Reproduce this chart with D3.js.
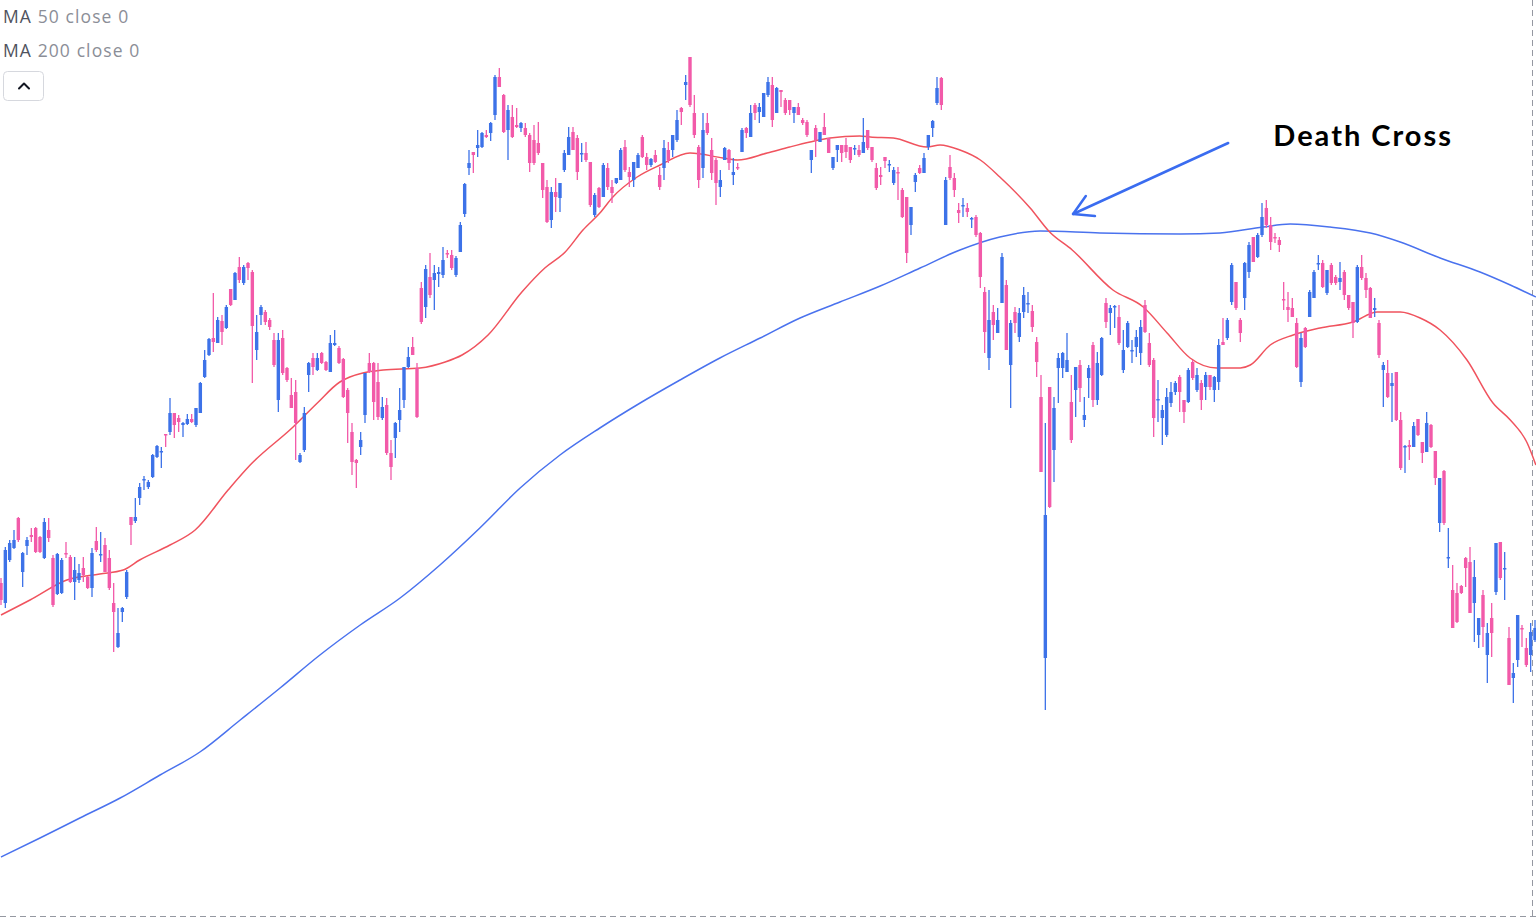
<!DOCTYPE html>
<html>
<head>
<meta charset="utf-8">
<script src="https://cdn.jsdelivr.net/npm/d3@7"></script>
<style>
	html, body { margin: 0; padding: 0; background: #fff; overflow: hidden; }
	svg { display: block; }
</style>
</head>
<body>
<script>
// daily bars: [open, high, low, close]
var ohlc = [
	[41.7,42.2,39.5,40.0],[39.7,45.3,39.2,45.0],[44.0,46.0,43.8,45.7],[45.2,47.0,45.1,46.0],[48.2,48.3,45.8,46.0],
	[42.8,44.8,41.3,44.7],[45.4,46.3,44.5,46.0],[46.5,47.2,45.8,46.3],[47.2,47.3,44.7,44.8],[46.3,46.4,44.7,44.8],
	[44.2,48.2,44.1,47.8],[47.0,48.2,45.8,46.2],[44.2,44.5,39.3,39.5],[40.6,44.7,40.5,44.6],[40.7,44.2,40.6,44.0],
	[44.7,45.8,44.2,44.6],[44.3,44.5,41.7,41.8],[41.8,44.3,40.0,43.0],[42.0,43.6,41.7,42.7],[43.2,44.3,41.8,42.5],
	[42.3,42.4,41.1,41.2],[41.2,45.2,40.3,44.7],[45.9,47.3,44.8,45.0],[44.5,46.8,43.8,44.6],[45.5,46.2,42.8,42.8],
	[44.2,45.0,41.0,41.2],[39.7,41.7,34.8,38.8],[35.3,39.2,35.2,36.7],[38.8,39.3,37.8,39.2],[40.3,43.0,40.1,42.8],
	[48.3,48.3,45.5,47.5],[47.9,50.2,47.7,48.3],[50.2,51.7,49.5,51.3],[52.0,52.4,51.0,52.1],[51.3,52.0,51.1,51.8],
	[52.3,54.6,52.2,54.5],[54.3,55.5,54.2,55.4],[54.8,55.3,53.2,54.9],[56.6,56.6,55.3,56.5],[56.8,60.2,56.5,58.7],
	[58.7,58.7,56.2,57.5],[58.2,58.5,56.8,57.8],[57.5,57.8,56.3,57.7],[57.6,58.6,57.5,58.1],[58.1,58.6,57.7,57.8],
	[57.5,59.2,57.3,59.2],[58.7,61.8,58.7,61.7],[62.3,65.0,62.2,64.0],[64.5,66.2,64.4,66.1],[66.2,70.7,64.8,65.8],
	[65.7,68.3,65.7,68.0],[67.9,68.5,65.5,66.8],[67.2,69.5,67.1,69.3],[71.1,71.1,69.4,69.5],[70.0,72.8,70.0,72.7],
	[73.3,74.3,71.7,72.0],[71.7,73.5,71.5,73.3],[73.7,73.8,72.0,73.2],[72.8,73.0,61.7,67.4],[65.0,68.5,64.0,66.8],
	[68.5,69.5,67.5,69.3],[68.8,69.0,67.5,67.8],[68.0,68.2,67.0,67.3],[66.0,66.7,63.3,63.5],[60.0,66.7,58.8,66.0],
	[66.2,67.0,62.5,62.7],[63.2,63.3,61.8,62.0],[60.5,62.2,59.2,59.2],[60.8,62.0,54.0,57.7],[53.8,54.7,53.7,54.5],
	[55.0,59.3,54.8,58.7],[62.5,63.8,60.8,63.7],[64.2,64.7,62.5,63.3],[63.0,64.7,62.9,64.2],[64.7,64.8,63.6,63.7],
	[63.8,63.9,62.9,63.0],[62.8,66.5,62.8,65.7],[65.5,67.0,65.4,65.7],[65.2,65.4,63.6,63.7],[64.1,64.2,60.2,60.3],
	[61.0,61.2,55.7,58.7],[56.8,57.7,52.5,53.8],[54.0,54.1,51.2,53.7],[55.3,56.8,54.5,56.0],[58.5,62.7,57.7,62.7],
	[63.7,64.7,62.7,62.8],[63.7,63.8,58.0,59.8],[61.8,63.7,58.0,58.3],[58.2,60.3,58.0,59.3],[59.5,60.2,54.5,54.7],
	[54.7,56.0,52.0,53.3],[56.2,57.8,54.2,57.7],[58.0,61.2,56.8,59.0],[60.0,63.3,59.2,63.3],[63.3,65.3,63.2,64.3],
	[65.3,66.3,64.5,64.5],[63.2,63.7,58.2,58.3],[71.2,71.8,67.6,67.8],[69.3,73.5,68.2,73.1],[72.3,74.7,70.2,70.5],
	[72.0,73.5,69.0,72.7],[72.6,73.3,71.3,72.8],[72.5,75.3,72.2,74.0],[74.7,75.0,74.2,74.6],[74.5,75.0,73.0,73.2],
	[72.5,74.4,72.3,74.2],[74.8,77.8,74.8,77.5],[78.6,81.7,78.3,81.6],[83.2,85.0,82.5,83.7],[84.8,84.8,82.7,84.5],
	[85.2,87.0,84.3,85.5],[85.3,86.8,85.2,86.7],[86.5,87.0,86.2,86.3],[86.7,87.8,85.9,87.7],[88.5,92.5,88.0,92.3],
	[92.3,93.2,91.3,91.3],[90.5,90.6,86.7,86.8],[87.0,89.5,84.0,89.0],[88.3,89.5,86.2,86.3],[87.5,89.2,87.2,87.3],
	[87.2,87.8,86.8,87.7],[87.2,87.7,86.3,86.5],[86.5,86.7,82.8,83.7],[86.0,87.5,83.5,83.7],[85.7,87.8,84.5,84.7],
	[83.7,83.7,80.2,81.0],[81.3,82.0,77.7,77.8],[78.0,81.3,77.2,80.8],[80.8,82.2,78.8,80.3],[80.2,81.7,78.8,81.7],
	[83.0,85.0,82.8,84.7],[84.5,87.3,84.5,86.3],[86.8,87.3,85.0,85.0],[86.2,86.5,82.0,82.8],[84.6,85.7,83.8,84.7],
	[84.7,85.8,83.8,84.0],[83.8,83.8,79.3,79.5],[78.5,80.7,78.3,80.5],[81.2,81.3,79.2,79.3],[80.3,83.7,80.3,83.5],
	[83.2,83.7,81.0,81.3],[81.3,82.0,79.7,80.7],[81.7,82.2,81.6,82.2],[82.0,85.2,82.0,85.0],[85.3,86.0,82.8,83.0],
	[82.8,83.3,81.3,82.3],[82.0,83.8,81.3,83.8],[83.2,84.7,83.2,84.5],[86.3,86.5,84.2,84.3],[84.3,84.7,83.0,83.5],
	[83.5,84.2,83.3,84.1],[84.5,85.0,83.7,83.8],[82.5,83.3,81.0,81.3],[83.2,86.0,82.0,85.2],[85.0,85.8,83.7,84.0],
	[85.0,86.5,84.3,86.5],[86.0,89.0,85.8,88.0],[89.2,89.3,87.5,88.8],[91.5,92.5,90.0,91.8],[94.3,94.3,89.3,89.5],
	[88.7,90.5,86.2,86.5],[85.3,85.5,81.2,82.0],[83.2,88.7,82.2,87.0],[87.7,88.7,86.5,86.7],[85.0,86.2,82.0,82.7],
	[84.0,84.2,79.5,81.7],[81.3,83.0,80.3,82.0],[84.0,85.3,84.0,85.2],[85.0,85.1,83.0,83.7],[82.5,84.2,81.5,82.8],
	[83.3,83.7,83.0,83.2],[84.8,87.2,84.8,87.0],[87.2,87.3,86.2,86.7],[86.3,89.5,86.3,88.7],[89.5,89.7,88.0,88.7],
	[88.8,89.7,87.7,89.3],[88.3,90.7,88.3,90.7],[90.5,92.3,90.3,91.8],[91.5,92.3,87.3,88.0],[88.7,91.3,88.7,91.2],
	[91.0,91.0,89.3,90.8],[90.0,90.2,88.5,88.7],[90.0,90.0,88.5,89.0],[88.7,89.3,87.7,89.3],[89.3,89.7,88.5,88.5],
	[88.0,88.2,87.5,87.7],[87.8,88.0,86.3,86.5],[84.0,85.0,82.7,85.0],[87.2,87.5,84.3,86.0],[85.8,86.8,85.8,86.8],
	[87.3,88.7,86.5,86.5],[86.2,86.2,84.7,84.7],[83.2,84.3,83.0,84.3],[85.0,85.5,83.8,85.5],[85.5,85.5,83.8,84.7],
	[85.5,86.2,84.2,84.8],[85.3,85.3,83.7,84.0],[85.1,85.5,84.5,85.2],[85.0,85.5,84.3,84.5],[84.7,88.2,84.7,85.8],
	[87.0,87.0,85.0,85.2],[85.3,85.3,83.8,84.0],[83.2,83.7,81.0,81.2],[82.5,83.3,81.5,82.3],[84.3,84.3,83.2,83.9],
	[83.5,84.0,82.8,83.6],[81.7,83.3,81.5,83.0],[82.8,83.3,80.0,82.7],[81.0,81.2,78.2,78.3],[80.3,80.3,73.7,74.7],
	[77.5,79.3,76.5,79.3],[81.8,82.7,80.8,82.5],[83.2,83.5,82.6,82.7],[82.7,84.7,82.7,84.2],[85.3,86.5,85.0,86.5],
	[87.2,88.0,86.3,87.9],[89.7,92.3,89.5,91.2],[92.2,92.3,89.0,89.5],[77.5,82.3,77.5,82.0],[83.3,84.5,82.0,82.2],
	[82.2,82.7,80.3,81.0],[79.0,79.7,77.7,78.7],[79.4,80.2,78.3,79.5],[79.2,79.7,78.3,78.8],[78.1,78.3,77.2,78.2],
	[78.3,78.5,76.3,76.5],[76.7,76.8,71.2,72.3],[70.8,71.3,64.7,66.8],[64.2,71.0,63.0,68.0],[68.8,69.5,66.0,67.5],
	[66.7,69.2,66.7,68.0],[69.7,74.7,69.7,74.3],[71.5,72.0,65.0,65.0],[63.5,68.0,59.2,67.7],[68.8,69.3,66.7,67.7],
	[66.3,69.2,65.8,68.7],[68.8,71.3,68.2,70.5],[69.6,70.8,68.7,69.7],[68.9,69.5,66.8,67.3],[65.8,66.3,62.3,63.8],
	[60.3,62.5,52.8,52.8],[34.2,57.7,29.0,48.5],[61.3,61.3,49.2,49.3],[55.0,60.3,51.8,59.2],[63.2,64.7,59.7,64.2],
	[63.2,64.8,62.2,64.7],[62.8,66.7,62.8,64.0],[59.8,62.5,55.7,56.0],[61.0,63.3,58.3,63.3],[63.5,64.0,59.8,61.2],
	[58.0,60.3,57.3,58.5],[62.2,63.5,60.2,63.2],[65.5,65.8,59.3,60.0],[60.0,64.8,59.5,63.7],[62.5,66.3,62.4,66.2],
	[69.7,70.2,67.2,67.8],[68.7,69.5,66.5,69.2],[69.3,69.5,67.2,69.4],[68.3,69.5,65.5,65.7],[63.0,67.0,62.7,65.0],
	[65.3,67.9,65.2,67.7],[64.9,66.0,63.7,65.0],[65.3,67.0,64.3,66.3],[64.7,68.0,63.5,67.3],[69.5,70.0,66.7,66.8],
	[65.7,66.7,63.3,63.5],[64.0,64.2,56.3,58.2],[60.0,62.0,57.8,60.1],[58.2,59.5,55.5,59.0],[56.5,61.2,56.3,60.3],
	[59.7,61.8,59.3,60.8],[60.8,61.9,60.5,61.7],[62.3,62.5,58.8,60.8],[60.0,60.0,57.7,58.8],[59.8,63.2,59.7,63.0],
	[63.8,64.0,62.0,62.2],[61.0,63.2,60.8,62.5],[61.7,62.0,59.0,60.0],[61.3,62.8,60.0,62.5],[62.5,62.5,61.0,61.3],
	[61.0,62.4,59.8,62.3],[61.8,66.1,61.0,65.5],[65.8,68.2,65.5,65.5],[66.2,68.2,66.0,68.0],[69.8,73.7,69.5,73.5],
	[71.8,71.8,69.0,69.2],[68.0,68.2,65.8,66.7],[70.2,73.8,69.0,73.7],[72.8,75.8,72.2,75.5],[76.3,76.3,73.8,73.8],
	[74.3,76.7,74.2,76.5],[76.5,79.7,76.3,78.3],[79.2,80.0,77.2,77.5],[77.5,78.3,75.0,75.8],[76.3,76.7,75.7,76.2],
	[76.0,76.3,74.8,75.5],[70.1,71.8,69.0,70.0],[69.3,70.8,67.8,69.0],[69.2,70.2,68.3,68.3],[67.7,68.2,63.2,63.3],
	[61.8,66.7,61.3,66.2],[67.2,67.3,65.2,65.3],[68.3,71.0,68.3,70.8],[70.2,73.0,70.2,72.8],[73.6,74.5,73.0,73.7],
	[73.7,74.0,71.2,71.3],[70.7,73.0,70.5,73.0],[73.5,73.7,71.5,71.7],[72.3,72.5,71.5,71.7],[71.8,73.8,71.0,72.2],
	[72.8,73.0,70.0,70.5],[70.5,70.5,69.0,69.2],[69.8,69.8,66.2,67.7],[67.8,73.5,67.7,73.3],[73.3,74.5,72.0,72.2],
	[72.2,72.7,70.2,71.0],[71.2,71.3,68.2,68.2],[69.0,70.2,68.3,69.2],[67.7,68.0,64.2,64.5],[63.0,63.8,59.3,63.5],
	[62.7,64.0,60.2,60.3],[61.4,62.7,57.8,61.7],[62.8,62.8,57.9,58.0],[58.0,58.8,53.0,53.2],[55.3,55.5,52.7,55.4],
	[55.5,56.0,54.0,55.3],[55.3,57.8,55.3,57.4],[58.1,58.1,56.4,56.5],[55.8,55.8,53.7,54.7],[54.8,58.8,54.8,57.7],
	[57.5,57.6,55.2,55.3],[54.9,54.9,51.5,52.2],[47.7,52.2,46.8,52.2],[52.9,53.0,47.5,47.7],[44.2,47.2,43.2,44.3],
	[41.0,43.5,37.2,37.2],[40.7,41.7,37.7,37.8],[41.4,41.5,40.6,40.7],[44.2,44.3,41.3,43.2],[43.8,45.3,38.7,38.7],
	[39.7,44.0,35.8,42.3],[36.5,38.2,35.2,38.2],[40.5,41.0,35.3,37.3],[34.5,37.7,31.7,36.7],[38.2,39.7,34.3,36.7],
	[40.8,45.7,40.5,45.7],[45.8,45.8,42.0,42.2],[43.1,44.8,40.0,43.2],[36.2,37.3,31.5,31.5],[32.2,33.7,29.7,32.7],
	[34.0,38.5,33.3,38.5],[37.2,37.5,35.3,37.1],[35.2,36.2,33.3,33.5],[34.5,37.7,32.8,36.8],[36.0,38.0,35.8,37.2]
];

// moving averages: [bar index, value]
var ma50 = [
	[0,38.5],[6.7,40.0],[15.2,42.0],[22.8,42.6],[28.2,43.0],[32,44.0],[39,45.5],[44.8,47.0],[52.4,51.0],[57.5,53.5],
	[67.4,57.3],[73,59.7],[78.2,61.8],[80.5,62.3],[83.5,62.7],[88.2,63.0],[96.7,63.2],[102.5,63.8],[106.4,64.5],[112.4,66.5],
	[120.2,70.8],[125.5,73.2],[130.2,74.8],[134.3,77.0],[138.2,78.7],[141.2,80.3],[146.8,82.3],[152.1,83.5],[159,84.7],[166.6,84.2],
	[170,84.0],[176.8,84.7],[182,85.3],[186.7,85.8],[191.3,86.2],[198.2,86.4],[200.6,86.3],[205.9,86.2],[213.7,85.3],[216.7,85.5],
	[221.3,85.0],[226,84.0],[230.5,82.3],[237.5,79.2],[242,76.8],[247.2,75.0],[256.6,71.0],[263.6,69.3],[269.1,66.7],[274.4,64.2],
	[280.6,63.2],[286,63.2],[288.3,63.5],[292.9,65.5],[298.2,66.5],[304.4,67.2],[312,67.8],[317.6,68.8],[322.9,68.8],[327.5,68.2],
	[332.1,67.0],[338.3,64.0],[344.3,59.7],[348.3,58.0],[352.2,55.7],[354.2,53.5]
];
var ma200 = [
	[0,14.3],[9,16.2],[18.2,18.2],[27.5,20.2],[36.7,22.5],[45.9,24.8],[55.2,28.0],[64.4,31.2],[73.6,34.5],[82.9,37.5],
	[92.1,40.2],[101.3,43.5],[110.5,47.2],[119.8,51.2],[129,54.5],[138.2,57.2],[147.5,59.7],[156.7,62.0],[165.9,64.2],[175.2,66.2],
	[184.4,68.2],[193.6,69.8],[202.9,71.4],[212.1,73.2],[221.3,75.0],[230.5,76.3],[239.8,76.9],[253.6,76.7],[272.1,76.6],[281.3,76.7],
	[291.2,77.3],[297.5,77.6],[306.7,77.3],[316,76.7],[322.9,75.8],[332.1,74.2],[341.3,72.8],[348.3,71.5],[354.2,70.3]
];

var legendRows = [
	{name: 'MA', args: '50 close 0'},
	{name: 'MA', args: '200 close 0'}
];

var note = {label: 'Death Cross', tip: [247.4, 78.6], tail: [283.2, 85.7], text: [293.6, 85.4]};
var cursor = {index: 353.3, price: 8.4};

var width = 1536,
height = 919;

var upColor = '#3d72e8',
downColor = '#f25aa9';

var x = d3.scaleLinear().domain([0, ohlc.length - 1]).range([1, 1535]),
y = d3.scaleLinear().domain([10, 100]).range([900, 0]);

var svg = d3.select('body').append('svg')
	.attr('width', width)
	.attr('height', height);

// crosshair
svg.append('line')
	.attr('x1', Math.round(x(cursor.index)) + 0.5)
	.attr('x2', Math.round(x(cursor.index)) + 0.5)
	.attr('y1', 0)
	.attr('y2', height)
	.attr('stroke', '#9598a1')
	.attr('stroke-width', 1)
	.attr('stroke-dasharray', '6,4');

svg.append('line')
	.attr('x1', 0)
	.attr('x2', width)
	.attr('y1', Math.round(y(cursor.price)) + 0.5)
	.attr('y2', Math.round(y(cursor.price)) + 0.5)
	.attr('stroke', '#9598a1')
	.attr('stroke-width', 1)
	.attr('stroke-dasharray', '6,4');

var maLine = d3.line()
	.curve(d3.curveMonotoneX)
	.x(function(d) { return x(d[0]); })
	.y(function(d) { return y(d[1]); });

svg.append('path')
	.datum(ma200)
	.attr('fill', 'none')
	.attr('stroke', '#4a72ee')
	.attr('stroke-width', 1.5)
	.attr('d', maLine);

svg.append('path')
	.datum(ma50)
	.attr('fill', 'none')
	.attr('stroke', '#f0535e')
	.attr('stroke-width', 1.5)
	.attr('d', maLine);

var bars = svg.append('g')
	.selectAll('g')
	.data(ohlc)
	.enter().append('g')
	.attr('fill', function(d) { return d[3] >= d[0] ? upColor : downColor; })
	.attr('stroke', function(d) { return d[3] >= d[0] ? upColor : downColor; });

bars.append('line')
	.attr('x1', function(d, i) { return x(i); })
	.attr('x2', function(d, i) { return x(i); })
	.attr('y1', function(d) { return y(d[1]); })
	.attr('y2', function(d) { return y(d[2]); })
	.attr('stroke-width', 1.3);

bars.append('rect')
	.attr('stroke', 'none')
	.attr('x', function(d, i) { return x(i) - 1.7; })
	.attr('width', 3.4)
	.attr('y', function(d) { return y(Math.max(d[0], d[3])); })
	.attr('height', function(d) { return Math.max(1.5, Math.abs(y(d[0]) - y(d[3]))); });

// legend
var legend = svg.append('g')
	.attr('font-family', '"Open Sans", "Noto Sans", sans-serif')
	.attr('font-size', 17.5)
	.attr('letter-spacing', 1.1);

legend.selectAll('text')
	.data(legendRows)
	.enter().append('text')
	.attr('x', 3)
	.attr('y', function(d, i) { return 23 + i * 34; })
	.each(function(d) {
		var t = d3.select(this);
		t.append('tspan').attr('fill', '#50535e').text(d.name);
		t.append('tspan').attr('fill', '#8b8e97').text(' ' + d.args);
	});

var toggle = svg.append('g')
	.attr('transform', 'translate(3.5, 71.5)');

toggle.append('rect')
	.attr('width', 40)
	.attr('height', 29)
	.attr('rx', 4)
	.attr('fill', '#fff')
	.attr('stroke', '#d6d8de');

toggle.append('path')
	.attr('d', 'M15.5,17 L20.5,12 L25.5,17')
	.attr('fill', 'none')
	.attr('stroke', '#131722')
	.attr('stroke-width', 2)
	.attr('stroke-linecap', 'round')
	.attr('stroke-linejoin', 'round');

// annotation
var tip = [x(note.tip[0]), y(note.tip[1])],
tail = [x(note.tail[0]), y(note.tail[1])];
var ang = Math.atan2(tail[1] - tip[1], tail[0] - tip[0]),
head = 22,
spread = Math.PI / 6;

svg.append('line')
	.attr('x1', tail[0])
	.attr('y1', tail[1])
	.attr('x2', tip[0])
	.attr('y2', tip[1])
	.attr('stroke', '#3a6cf0')
	.attr('stroke-width', 2.5)
	.attr('stroke-linecap', 'round');

svg.append('path')
	.attr('d', 'M' + (tip[0] + head * Math.cos(ang - spread)) + ',' + (tip[1] + head * Math.sin(ang - spread)) +
		'L' + tip[0] + ',' + tip[1] +
		'L' + (tip[0] + head * Math.cos(ang + spread)) + ',' + (tip[1] + head * Math.sin(ang + spread)))
	.attr('fill', 'none')
	.attr('stroke', '#3a6cf0')
	.attr('stroke-width', 2.5)
	.attr('stroke-linecap', 'round')
	.attr('stroke-linejoin', 'round');

svg.append('text')
	.attr('x', x(note.text[0]))
	.attr('y', y(note.text[1]))
	.attr('font-family', 'Lato, sans-serif')
	.attr('font-weight', 700)
	.attr('font-size', 29)
	.attr('letter-spacing', 2)
	.attr('fill', '#000')
	.text(note.label);
</script>
</body>
</html>
